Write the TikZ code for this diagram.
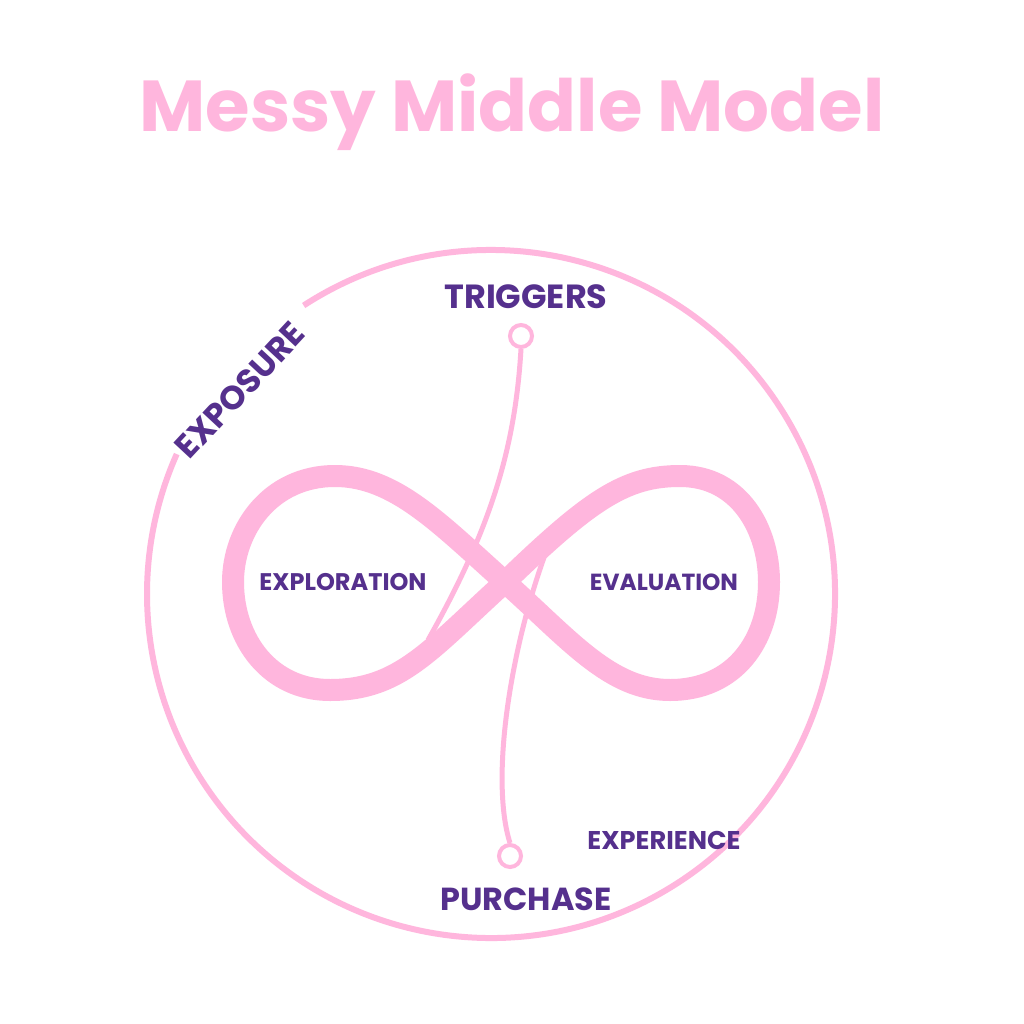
\documentclass[tikz,border=0pt]{standalone}
\usepackage{fontspec}
\usepackage{graphicx}
\setmainfont{Poppins}[BoldFont=* Bold]
\definecolor{pk}{HTML}{FFB6DD}
\definecolor{pu}{HTML}{55308D}
\newcommand{\fitw}[2]{\resizebox{#1pt}{!}{\bfseries #2}}
\begin{document}
\begin{tikzpicture}[x=1pt,y=-1pt,
  lbl/.style={text=pu,inner sep=0pt},
  thin/.style={draw=pk,line width=5pt}]
\useasboundingbox[fill=white] (0,0) rectangle (1024,1024);
\node[text=pk,inner sep=0pt] (title) at (512,112) {\fitw{745}{Messy Middle Model}};
% big circle with gap
\draw[draw=pk,line width=6pt] (491,594) ++(237:344) arc[start angle=237,end angle=564,radius=344];
\node[lbl,rotate=47] (exp) at (240,390) {\fitw{172}{EXPOSURE}};
% infinity
\draw[pk,line width=22pt,line join=round]
 (505,582) .. controls (590,500) and (625,476) .. (680,476)
 .. controls (740,476) and (769,530) .. (769,582)
 .. controls (769,640) and (735,690) .. (670,690)
 .. controls (610,690) and (570,640) .. (505,582)
 .. controls (440,524) and (395,476) .. (335,476)
 .. controls (270,476) and (233,530) .. (233,582)
 .. controls (233,640) and (270,690) .. (330,690)
 .. controls (400,690) and (430,650) .. (505,582) -- cycle;
% trigger and purchase
\node[circle,draw=pk,line width=4pt,fill=white,minimum size=22pt,inner sep=0pt] (tc) at (521,336) {};
\node[circle,draw=pk,line width=4pt,fill=white,minimum size=22pt,inner sep=0pt] (pc) at (510,856) {};
\coordinate (tend) at (428,640);
\coordinate (pend) at (546,552);
\draw[thin] (tc.south) .. controls (515,450) and (490,530) .. (tend);
\draw[thin] (pend) .. controls (510,650) and (490,780) .. (pc.north);
\node[lbl] (trig) at (526,297) {\fitw{163}{TRIGGERS}};
\node[lbl] (expl) at (343,582) {\fitw{167}{EXPLORATION}};
\node[lbl] (eval) at (664,582) {\fitw{148}{EVALUATION}};
\node[lbl] (expe) at (664,840) {\fitw{153}{EXPERIENCE}};
\node[lbl] (pur) at (526,899) {\fitw{171}{PURCHASE}};
\end{tikzpicture}
\end{document}
